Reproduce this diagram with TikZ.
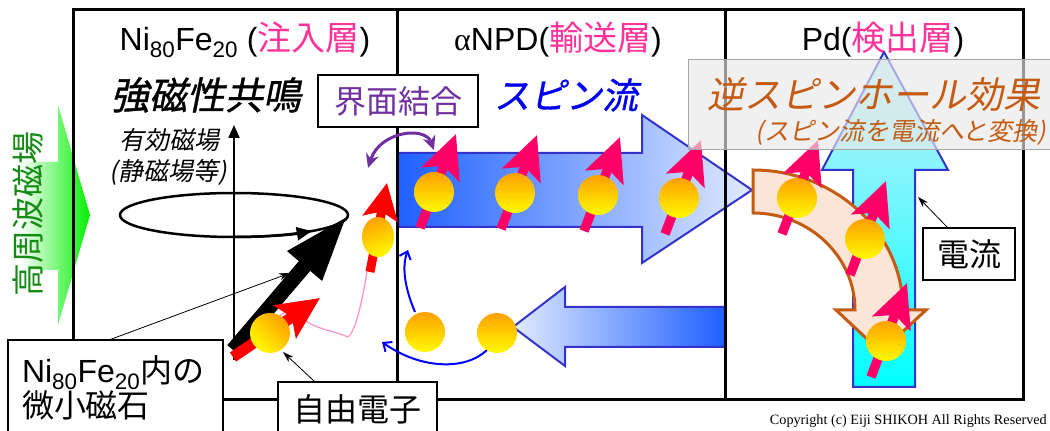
\documentclass[tikz,border=0pt]{standalone}
\usepackage{fontspec}
\setmainfont{Liberation Sans}
\newfontfamily\jpfont{Noto Sans CJK JP}
\newfontfamily\jpslant[FakeSlant=0.2]{Noto Sans CJK JP}
\newfontfamily\jpslantbold[FakeSlant=0.2,FakeBold=1]{Noto Sans CJK JP}
\newfontfamily\timesfont{Liberation Serif}
\usetikzlibrary{arrows.meta,positioning}

\definecolor{layerPink}{RGB}{255,51,153}
\definecolor{bondPurple}{RGB}{112,48,160}
\definecolor{spinBlue}{RGB}{0,0,240}
\definecolor{isheBrown}{RGB}{197,90,17}
\definecolor{ishePeach}{RGB}{251,229,214}
\definecolor{rfGreen}{RGB}{0,240,0}
\definecolor{rfText}{RGB}{20,140,20}
\definecolor{spinPink}{RGB}{255,0,102}
\definecolor{trailPink}{RGB}{255,150,200}
\definecolor{ballOrange}{RGB}{255,160,0}
\definecolor{ballYellow}{RGB}{255,250,0}
\definecolor{flowBlue}{RGB}{30,95,255}
\definecolor{flowPale}{RGB}{225,235,255}
\definecolor{flowEdge}{RGB}{51,51,204}
\definecolor{curTop}{RGB}{205,240,250}
\definecolor{curBottom}{RGB}{0,255,255}
\definecolor{boxGray}{RGB}{232,232,232}

\newcommand{\fsz}[1]{\fontsize{#1}{#1}\selectfont}

\begin{document}
\begin{tikzpicture}[x=1pt,y=1pt,
    ball/.style={top color=ballOrange, bottom color=ballYellow},
    spin/.style={draw=spinPink, line width=9.5pt, -{Stealth[length=43pt,width=40pt,inset=9pt]}},
    flow/.style={draw=flowEdge, line width=2pt, line join=miter},
    backflow/.style={draw=blue, line width=2pt, -{Straight Barb[length=7pt,width=12pt]}},
    callout/.style={draw=black, line width=1.2pt, fill=white, inner sep=0pt},
    pointer/.style={black, line width=0.8pt, -{Stealth[length=11pt,width=7pt]}}]

    \useasboundingbox (0,0) rectangle (1050,431);

    % RF field arrow
    \shade[left color=white, middle color=rfGreen!30!white, right color=rfGreen]
        (20,269) -- (58,269) -- (58,326) -- (90,216) -- (58,106) -- (58,161) -- (20,161) -- cycle;
    \node[rotate=90, text=rfText] (rftext) at (28,217) {\jpfont\fsz{33}高周波磁場};

    % Spin current and return flow in the transport layer
    \draw[flow, left color=flowBlue, right color=flowPale]
        (397,278) -- (642,278) -- (642,316) -- (752,241) -- (642,168) -- (642,204) -- (397,204) -- cycle;
    \draw[flow, left color=flowPale, right color=flowBlue]
        (725,124) -- (565,124) -- (565,144) -- (513,104) -- (565,65) -- (565,84) -- (725,84) -- cycle;

    % Charge current in Pd
    \draw[flow, top color=curTop, bottom color=curBottom]
        (853,44) -- (853,261) -- (822,261) -- (884,379) -- (948,261) -- (915,261) -- (915,44) -- cycle;

    % Bent arrow of the inverse spin Hall effect
    \draw[line width=3pt, draw=isheBrown, fill=ishePeach, line join=miter]
        (753,261) arc[start angle=90, end angle=0, x radius=150, y radius=140]
        -- (926,121) -- (881,79) -- (836,121) -- (855,121)
        arc[start angle=0, end angle=90, x radius=102, y radius=97] -- cycle;

    % Layers
    \draw[line width=3pt] (73,31) rectangle (1023,421);
    \draw[line width=3pt] (397,31) -- (397,421);
    \draw[line width=3pt] (725,31) -- (725,421);

    % Precession in NiFe
    \draw[line width=2pt, -{Triangle[length=13pt,width=11pt]}] (234,71) -- (234,306);
    \draw[line width=2.5pt] (234,216) ellipse[x radius=114, y radius=22];
    \draw[line width=2.5pt, -{Triangle[length=15pt,width=13pt]}]
        (234,194) arc[start angle=270, end angle=313, x radius=114, y radius=22];
    \draw[line width=15pt, -{Triangle[length=67pt,width=41pt]}] (233,81) -- (348,216);

    % Electron leaving the magnet
    \draw[trailPink, line width=1.3pt]
        (367,159) .. controls (362,130) and (356,100) .. (348,94)
        .. controls (335,100) and (315,102) .. (305,111)
        .. controls (300,120) and (285,125) .. (278,112);
    \draw[draw=red, line width=11pt, -{Stealth[length=42pt,width=39pt,inset=8pt]}] (233,74) -- (320,133);
    \shade[ball, shading angle=-45] (270,98) circle[radius=20];
    \draw[draw=red, line width=9pt, -{Stealth[length=36pt,width=35pt,inset=7pt]}] (370,159) -- (387,248);
    \shade[ball, shading angle=20] (378,194) ellipse[x radius=16, y radius=20];

    % Spin-polarised electrons in aNPD
    \draw[spin] (420,203) -- (456,297);
    \shade[ball] (434,239) circle[radius=20];
    \draw[spin] (501,202) -- (537,296);
    \shade[ball] (515,238) circle[radius=20];
    \draw[spin] (584,200) -- (620,294);
    \shade[ball] (598,236) circle[radius=20];
    \draw[spin] (665,197) -- (701,291);
    \shade[ball] (679,233) circle[radius=20];

    % Returning electrons
    \draw[backflow] (415,119) .. controls (404,145) and (402,165) .. (408,181);
    \draw[backflow] (487,81) .. controls (465,60) and (420,62) .. (382,89);
    \shade[ball] (425,99) circle[radius=20];
    \shade[ball] (497,98) circle[radius=20];

    % Electrons in Pd
    \draw[spin] (782,197) -- (818,291);
    \shade[ball] (797,233) circle[radius=20];
    \draw[spin] (850,156) -- (886,250);
    \shade[ball] (865,192) circle[radius=20];
    \draw[spin] (871,54) -- (907,148);
    \shade[ball] (886,90) circle[radius=20];

    % Interface coupling
    \draw[bondPurple, line width=3pt, {Stealth[length=14pt,width=13pt]}-{Stealth[length=14pt,width=13pt]}]
        (368,263) .. controls (380,300) and (425,305) .. (434,281);

    % Inverse spin Hall effect banner
    \fill[boxGray, opacity=0.65] (688,281) rectangle (1052,371);
    \draw[gray!70, line width=1pt] (1052,371) -- (688,371) -- (688,281) -- (1052,281);

    % Titles
    \node (nifetitle) at (245,391) {\fsz{32}Ni\textsubscript{80}Fe\textsubscript{20} ({\jpfont\fsz{34}\color{layerPink}注入層})};
    \node (npdtitle) at (558,391) {\fsz{32}{\timesfont α}NPD({\jpfont\fsz{34}\color{layerPink}輸送層})};
    \node (pdtitle) at (883,391) {\fsz{32}Pd({\jpfont\fsz{34}\color{layerPink}検出層})};

    \node (fmr) at (206,336) {\jpslantbold\fsz{38}強磁性共鳴};
    \node[text=spinBlue] (spintext) at (566,336) {\jpslantbold\fsz{36}スピン流};
    \node[text=isheBrown] (ishe) at (874,336) {\jpslant\fsz{37}逆スピンホール効果};
    \node[text=isheBrown] (ishenote) at (901,299) {\jpslant\fsz{25}(スピン流を電流へと変換)};
    \node (efffield) at (169,291) {\jpslant\fsz{25}有効磁場};
    \node (staticfield) at (168,259) {\jpslant\fsz{25}(静磁場等)};

    % Labelled boxes
    \node[callout, minimum width=160pt, minimum height=52pt] (bondbox) at (398,330)
        {\jpfont\fsz{32}\color{bondPurple}界面結合};
    \node[callout, minimum width=215pt, minimum height=96pt, text width=187pt, align=left] (magnetbox) at (115.5,43)
        {\fontsize{32}{40}\selectfont Ni\textsubscript{80}Fe\textsubscript{20}{\jpfont 内の}\\{\jpfont 微小磁石}};
    \node[callout, minimum width=159pt, minimum height=54pt] (electronbox) at (357.5,22)
        {\jpfont\fsz{32}自由電子};
    \node[callout, minimum width=92pt, minimum height=52pt] (currentbox) at (969,177)
        {\jpfont\fsz{32}電流};

    \coordinate (magnettip) at (290,158);
    \coordinate (electrontip) at (283,79);
    \coordinate (currenttip) at (918,234);
    \draw[pointer] ([xshift=-5pt]magnetbox.north) -- (magnettip);
    \draw[pointer] ([xshift=37pt]electronbox.north west) -- (electrontip);
    \draw[pointer] ([xshift=25pt]currentbox.north west) -- (currenttip);

    \node[anchor=east, inner sep=0pt] (copyright) at (1047,10)
        {\timesfont\fsz{14.2}Copyright (c) Eiji SHIKOH All Rights Reserved};

\end{tikzpicture}
\end{document}
